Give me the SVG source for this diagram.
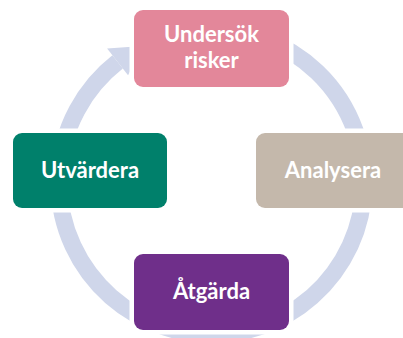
<svg xmlns="http://www.w3.org/2000/svg" width="403" height="338" viewBox="0 0 403 338">
<style>
.box{stroke:#fff;stroke-width:9;paint-order:stroke}
.lbl{font-family:Lato,"Open Sans","Liberation Sans",sans-serif;font-weight:bold;font-size:22px;fill:#fff;text-anchor:middle}
</style>
<rect width="403" height="338" fill="#fff"/>
<g id="connectors">
<path d="M263.66,38.70 A152.5,152.5 0 1 1 117.61,61.83" fill="none" stroke="#CFD6EA" stroke-width="17"/>
<polygon points="107.14,48.43 142.27,46.12 128.07,75.23" fill="#CFD6EA"/>
</g>
<g id="node-undersok">
<rect class="box" x="134" y="10" width="155" height="77" rx="9" fill="#E3879A"/>
<text class="lbl" x="211.5" y="42">Undersök</text>
<text class="lbl" x="211.5" y="68">risker</text>
</g>
<g id="node-analysera">
<rect class="box" x="256" y="133" width="155" height="75" rx="9" fill="#C4B8AB"/>
<text class="lbl" x="333" y="178">Analysera</text>
</g>
<g id="node-atgarda">
<rect class="box" x="134" y="254" width="155" height="76" rx="9" fill="#6F2F8A"/>
<text class="lbl" x="211.5" y="299">Åtgärda</text>
</g>
<g id="node-utvardera">
<rect class="box" x="13" y="133" width="154" height="75" rx="9" fill="#00806B"/>
<text class="lbl" x="90" y="178">Utvärdera</text>
</g>
</svg>
